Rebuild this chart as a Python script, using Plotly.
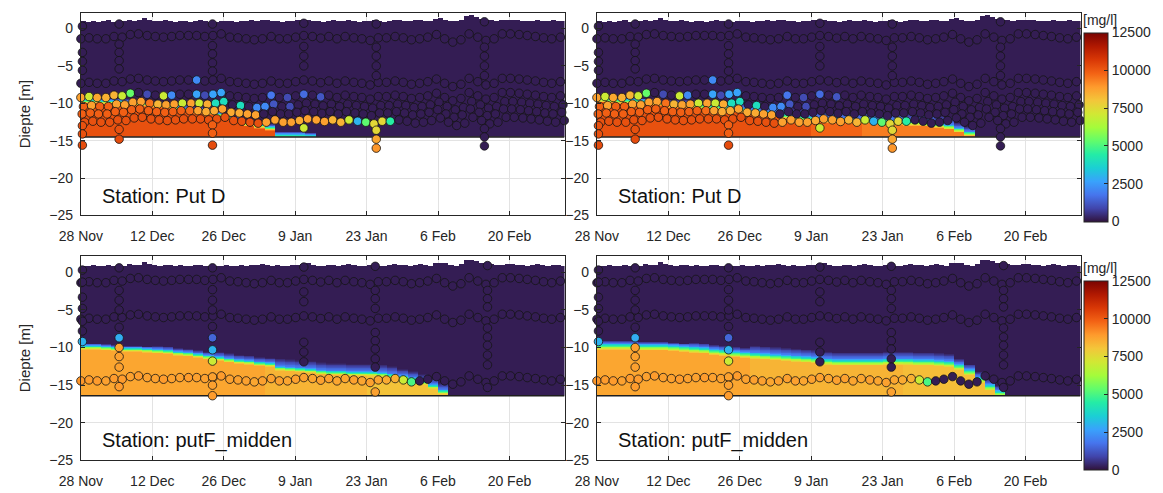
import numpy as np
import plotly.graph_objects as go

FONT = "Liberation Sans, Arial, sans-serif"
INK = "#262626"

# ---------------- axes ----------------
tick_days = [0, 14, 28, 42, 56, 70, 84]          # days after 28 Nov 2022
tick_text = ["28 Nov", "12 Dec", "26 Dec", "9 Jan", "23 Jan", "6 Feb", "20 Feb"]
depth_ticks = [0, -5, -10, -15, -20, -25]
day_end = 94.8
cbar_ticks = [0, 2500, 5000, 7500, 10000, 12500]
cbar_text = ["0", "2500", "5000", "7500", "10000", "12500"]
station_top = "Station: Put D"
station_bottom = "Station: putF_midden"

# ---------------- water level (m), one value per day ----------------
water_level = [0.95, 0.90, 1.00, 0.85, 0.95, 1.05, 0.90, 1.00, 0.95, 1.10,
               1.00, 1.05, 1.40, 1.10, 1.00, 0.95, 1.05, 1.00, 0.90, 1.00,
               0.95, 0.90, 1.00, 1.05, 0.95, 0.85, 0.90, 0.95, 1.00, 0.95,
               0.90, 1.00, 0.95, 1.05, 1.00, 1.10, 1.05, 0.95, 1.00, 0.90,
               0.95, 1.00, 1.05, 1.10, 1.20, 1.00, 0.95, 0.90, 1.00, 1.05,
               0.95, 1.00, 1.10, 1.00, 0.90, 0.95, 1.00, 1.05, 0.95, 0.90,
               1.00, 1.10, 1.05, 1.00, 0.95, 1.05, 1.15, 1.00, 0.95, 1.25,
               1.35, 1.20, 1.00, 0.95, 1.10, 1.70, 1.75, 1.50, 1.30, 1.20,
               1.10, 1.00, 1.05, 1.10, 1.15, 1.05, 1.00, 0.95, 1.00, 1.10,
               1.00, 0.95, 1.05, 1.00, 0.95]

# ---------------- sampling moments of the fixed sensors ----------------
sample_days = [0.0, 1.6, 3.2, 4.9, 6.5, 8.1, 9.7, 11.3, 13.0, 14.6,
               16.2, 17.8, 19.4, 21.1, 22.7, 24.3, 25.9, 27.5, 29.2, 30.8,
               32.4, 34.0, 35.6, 37.3, 38.9, 40.5, 42.1, 43.7, 45.4, 47.0,
               48.6, 50.2, 51.8, 53.5, 55.1, 56.7, 58.3, 59.9, 61.6, 63.2,
               64.8, 66.4, 68.0, 69.7, 71.3, 72.9, 74.5, 76.1, 77.8, 79.4,
               81.0, 82.6, 84.2, 85.9, 87.5, 89.1, 90.7, 92.3, 94.0]
# vertical excursion of the sensor frame at each sampling moment (m)
sample_wobble = [-0.13, 0.00, -0.13, -0.13, 0.18, 0.09, 0.44, 0.53, 0.31, 0.18,
                 0.09, 0.18, 0.31, 0.31, 0.31, 0.18, 0.31, 0.53, 0.09, 0.00,
                 -0.13, -0.26, -0.13, 0.18, -0.13, -0.13, 0.09, 0.31, 0.18, -0.04,
                 0.18, -0.13, 0.18, 0.00, -0.13, -0.35, 0.00, 0.00, 0.18, 0.00,
                 -0.26, -0.13, 0.09, 0.44, -0.13, -0.57, -0.26, 0.53, 0.09, -0.35,
                 -0.13, 0.53, 0.53, 0.44, 0.31, 0.18, 0.00, -0.13, 0.09]

# ================= Put D =================
putd_bed = -14.5
putd_row_depth = [-1.25, -7.2, -9.1, -10.3, -11.3, -12.4]
putd_row_lag = [0.0, 0.0, 0.0, 0.5, 0.25, 0.75]
putd_r1 = [200, 200, 200, 200, 200, 200, 200, 200, 200, 200,
           200, 200, 200, 200, 200, 200, 200, 200, 200, 200,
           200, 200, 200, 200, 200, 200, 200, 200, 200, 200,
           200, 200, 200, 200, 200, 200, 200, 200, 200, 200,
           200, 200, 200, 200, 200, 200, 200, 200, 200, 200,
           200, 200, 200, 200, 200, 200, 200, 200, 200]
putd_r2 = [200, 200, 200, 200, 200, 200, 200, 200, 200, 200,
           200, 200, 200, 200, 2200, 200, 200, 200, 200, 200,
           200, 200, 200, 200, 200, 200, 200, 200, 200, 200,
           200, 200, 200, 200, 200, 200, 200, 200, 200, 200,
           200, 200, 200, 200, 200, 200, 200, 200, 200, 200,
           200, 200, 200, 200, 200, 200, 200, 200, 200]
putd_r3 = [8800, 7000, 8700, 8500, 8400, 7000, 5400, 200, 1000, 200,
           7000, 2200, 200, 200, 2700, 1000, 2700, 2700, 200, 200,
           200, 200, 200, 1800, 200, 1000, 200, 1600, 200, 1200,
           200, 200, 200, 200, 200, 200, 200, 200, 200, 200,
           200, 200, 200, 200, 200, 200, 200, 200, 200, 200,
           200, 200, 200, 200, 200, 200, 200, 200, 200]
putd_r4 = [9900, 8800, 9900, 9900, 8800, 8800, 8800, 8800, 9600, 8400,
           8800, 8800, 7000, 8800, 7000, 8600, 4000, 4000, 200, 4000,
           200, 2200, 2200, 1200, 200, 1000, 200, 200, 200, 200,
           200, 200, 200, 200, 200, 200, 200, 200, 200, 200,
           200, 200, 200, 200, 200, 200, 200, 200, 200, 200,
           200, 200, 200, 200, 200, 200, 200, 200, 200]
putd_r5 = [9900, 9900, 9900, 9900, 9900, 9900, 9900, 9900, 9900, 9900,
           9900, 9900, 9900, 9700, 8800, 8600, 8600, 8800, 8600, 8600,
           8800, 8800, 200, 200, 200, 200, 200, 200, 200, 200,
           200, 200, 200, 200, 200, 200, 200, 200, 200, 200,
           200, 200, 200, 200, 200, 200, 200, 200, 200, 200,
           200, 200, 200, 200, 200, 200, 200, 200, 200]
putd_r6 = [10200, 10200, 10200, 10200, 10200, 10200, 10200, 10200, 10200, 10200,
           10200, 10200, 10200, 10200, 10200, 10200, 10200, 10200, 10200, 10200,
           10200, 10200, 8800, 8800, 8800, 8800, 8600, 8800, 8800, 8800,
           8400, 8400, 7000, 3000, 5300, 7600, 7600, 4500, 200, 200,
           200, 200, 200, 200, 200, 200, 200, 200, 200, 200,
           200, 200, 200, 200, 200, 200, 200, 200, 200]

# vertical profiles (day, depths, concentrations)
putd_prof_day = [0.3, 7.5, 25.8, 43.7, 57.9, 79.1]
putd_p1_depth = [0.3, -3.2, -4.4, -5.6, -13.0, -14.1, -15.6]
putd_p1_conc = [200, 200, 200, 200, 10200, 10200, 10300]
putd_p2_depth = [0.6, -2.1, -3.2, -4.3, -5.4, -13.5, -14.8]
putd_p2_conc = [200, 200, 200, 200, 200, 10200, 10300]
putd_p3_depth = [0.6, -2.3, -3.4, -4.6, -5.7, -12.9, -14.0, -15.6]
putd_p3_conc = [200, 200, 200, 200, 200, 9900, 9900, 10300]
putd_p4_depth = [0.7, -2.4, -3.7, -5.0, -13.3]
putd_p4_conc = [200, 200, 200, 200, 7000]
putd_p5_depth = [0.6, -2.5, -3.7, -5.0, -6.3, -13.6, -14.8, -16.0]
putd_p5_conc = [200, 200, 200, 200, 200, 7600, 8700, 9000]
putd_p6_depth = [0.9, -2.5, -3.7, -5.0, -6.3, -13.4, -14.5, -15.7]
putd_p6_conc = [200, 200, 200, 200, 200, 200, 200, 200]

# ================= putF_midden =================
putf_bed = -16.4
putf_row_depth = [-1.25, -6.1, -14.3]
putf_row_lag = [0.0, 0.0, 0.0]
putf_r1 = [200, 200, 200, 200, 200, 200, 200, 200, 200, 200,
           200, 200, 200, 200, 200, 200, 200, 200, 200, 200,
           200, 200, 200, 200, 200, 200, 200, 200, 200, 200,
           200, 200, 200, 200, 200, 200, 200, 200, 200, 200,
           200, 200, 200, 200, 200, 200, 200, 200, 200, 200,
           200, 200, 200, 200, 200, 200, 200, 200, 200]
putf_r2 = [200, 200, 200, 200, 200, 200, 200, 200, 200, 200,
           200, 200, 200, 200, 200, 200, 200, 200, 200, 200,
           200, 200, 200, 200, 200, 200, 200, 200, 200, 200,
           200, 200, 200, 200, 200, 200, 200, 200, 200, 200,
           200, 200, 200, 200, 200, 200, 200, 200, 200, 200,
           200, 200, 200, 200, 200, 200, 200, 200, 200]
putf_r3 = [9000, 8900, 8900, 8800, 8900, 8900, 8800, 8900, 8800, 8800,
           8900, 8800, 8800, 8900, 8800, 8800, 8800, 8900, 8800, 8800,
           8800, 8700, 8800, 8800, 8800, 8700, 8800, 8800, 8700, 8800,
           8800, 8700, 8700, 8800, 8700, 8800, 8700, 8600, 8500, 7000,
           5000, 200, 200, 200, 200, 200, 200, 200, 200, 200,
           200, 200, 200, 200, 200, 200, 200, 200, 200]

putf_prof_day = [0.3, 7.5, 25.8, 43.7, 57.7, 79.7]
putf_p1_depth = [0.3, -1.3, -3.3, -4.8, -6.5, -7.8, -9.2]
putf_p1_conc = [200, 200, 200, 200, 200, 200, 3000]
putf_p2_depth = [0.6, -2.4, -3.7, -5.0, -7.3, -8.7, -10.0, -11.2, -12.6, -15.2]
putf_p2_conc = [200, 200, 200, 200, 200, 2900, 8800, 8800, 8800, 8900]
putf_p3_depth = [0.6, -2.3, -3.7, -5.0, -7.2, -8.7, -10.3, -11.8, -13.9, -15.0, -16.4]
putf_p3_conc = [200, 200, 200, 200, 200, 1500, 3000, 7000, 8800, 8800, 8900]
putf_p4_depth = [0.7, -2.6, -3.9, -9.3, -10.6, -11.9]
putf_p4_conc = [200, 200, 200, 200, 200, 200]
putf_p5_depth = [0.8, -2.4, -3.5, -4.8, -8.0, -9.1, -10.2, -11.5, -12.6, -15.9]
putf_p5_conc = [200, 200, 200, 200, 200, 200, 200, 200, 200, 8800]
putf_p6_depth = [0.9, -2.4, -3.5, -4.6, -7.4, -8.6, -9.7, -11.0, -12.3, -15.3]
putf_p6_conc = [200, 200, 200, 200, 200, 200, 200, 200, 200, 200]

# ================= modelled fluid-mud layer, per 2-day block =================
# interface depth (m), thickness of the dilute haze above it (m), concentration below it (mg/l)
tl_iface = [-9.8, -9.8, -9.9, -9.9, -10.0, -10.1, -10.2, -10.3, -10.5, -10.7,
            -10.9, -11.1, -11.3, -11.6, -12.0, -12.4, -12.8, -13.1, -13.4, -14.3,
            -14.3, -14.3, -14.4, None, None, None, None, None, None, None,
            None, None, None, None, None, None, None, None, None, None,
            None, None, None, None, None, None, None, None]
tl_haze = [0.2, 0.2, 0.2, 0.2, 0.2, 0.2, 0.2, 0.2, 0.35, 0.35,
           0.35, 0.35, 0.35, 0.35, 0.35, 0.35, 0.35, 0.35, 0.35, 0.1,
           0.1, 0.1, 0.1, 0, 0, 0, 0, 0, 0, 0,
           0, 0, 0, 0, 0, 0, 0, 0, 0, 0,
           0, 0, 0, 0, 0, 0, 0, 0]
tl_conc = [10200, 10200, 10200, 10200, 10200, 10200, 10200, 10200, 10200, 10200,
           10200, 10200, 10200, 10200, 10200, 10200, 10200, 10200, 10200, 5800,
           5800, 5600, 5400, 0, 0, 0, 0, 0, 0, 0,
           0, 0, 0, 0, 0, 0, 0, 0, 0, 0,
           0, 0, 0, 0, 0, 0, 0, 0]

tr_iface = [-9.6, -9.7, -9.8, -9.8, -9.9, -10.0, -10.1, -10.3, -10.3, -10.4,
            -10.5, -10.6, -10.7, -10.9, -11.0, -11.2, -11.4, -11.6, -11.8, -12.0,
            -12.1, -12.2, -12.3, -12.3, -12.3, -12.4, -12.4, -12.5, -12.5, -12.6,
            -12.7, -12.7, -12.8, -13.0, -13.2, -13.6, -14.1, None, None, None,
            None, None, None, None, None, None, None, None]
tr_haze = [0.2, 0.2, 0.2, 0.2, 0.2, 0.2, 0.2, 0.4, 0.4, 0.4,
           0.4, 0.4, 0.4, 0.7, 0.7, 0.7, 0.7, 1.0, 1.0, 1.0,
           1.0, 1.0, 1.0, 1.0, 1.0, 1.0, 1.0, 1.0, 1.0, 1.0,
           1.0, 1.0, 1.0, 1.0, 1.0, 0.6, 0.6, 0, 0, 0,
           0, 0, 0, 0, 0, 0, 0, 0]
tr_conc = [10200, 10200, 10200, 10200, 10200, 10200, 10200, 10200, 10200, 10200,
           10200, 10200, 10200, 10200, 10200, 10200, 10200, 10200, 10200, 10200,
           10200, 9800, 9800, 9800, 9800, 9800, 9400, 9400, 9400, 9400,
           9400, 9400, 9400, 9400, 9400, 9400, 9400, 0, 0, 0,
           0, 0, 0, 0, 0, 0, 0, 0]

bl_iface = [-10.0, -10.0, -10.1, -10.2, -10.3, -10.3, -10.4, -10.5, -10.6, -10.8,
            -10.9, -11.1, -11.3, -11.5, -11.7, -11.9, -12.0, -12.2, -12.3, -12.8,
            -12.9, -13.0, -13.1, -13.3, -13.4, -13.4, -13.5, -13.5, -13.5, -13.6,
            -13.8, -14.0, -14.3, -14.7, -15.2, -15.9, None, None, None, None,
            None, None, None, None, None, None, None, None]
bl_haze = [0.2, 0.2, 0.2, 0.2, 0.2, 0.2, 0.2, 0.4, 0.4, 0.4,
           0.4, 0.4, 0.4, 0.6, 0.6, 0.6, 0.6, 0.6, 0.6, 1.0,
           1.0, 1.0, 1.0, 1.0, 1.0, 1.0, 1.0, 1.0, 1.0, 1.0,
           1.0, 0.8, 0.8, 0.8, 0.8, 0.8, 0, 0, 0, 0,
           0, 0, 0, 0, 0, 0, 0, 0]
bl_conc = [8700, 8700, 8700, 8700, 8700, 8700, 8700, 8700, 8700, 8700,
           8700, 8700, 8700, 8700, 8700, 8700, 8700, 8700, 8400, 8400,
           8400, 8400, 8400, 8400, 8400, 8400, 8400, 8400, 8100, 8100,
           8100, 8100, 8100, 8100, 8100, 8100, 0, 0, 0, 0,
           0, 0, 0, 0, 0, 0, 0, 0]

br_iface = [-9.9, -9.9, -9.9, -9.9, -10.0, -10.0, -10.0, -10.1, -10.2, -10.3,
            -10.4, -10.6, -10.7, -10.9, -11.0, -11.1, -11.2, -11.3, -11.4, -11.5,
            -11.6, -11.7, -11.9, -12.0, -12.0, -12.0, -12.0, -12.0, -11.9, -11.9,
            -11.9, -12.0, -12.0, -12.1, -12.2, -12.6, -13.3, -14.3, -15.3, -16.1,
            None, None, None, None, None, None, None, None]
br_haze = [0.3, 0.3, 0.3, 0.3, 0.3, 0.3, 0.3, 0.3, 0.3, 0.5,
           0.5, 0.5, 0.5, 0.5, 0.5, 0.9, 0.9, 0.9, 0.9, 0.9,
           0.9, 0.9, 0.9, 0.9, 0.9, 0.9, 0.9, 0.9, 0.9, 0.9,
           0.9, 0.9, 0.9, 0.9, 0.9, 0.6, 0.6, 0.6, 0.6, 0.6,
           0, 0, 0, 0, 0, 0, 0, 0]
br_conc = [8700, 8700, 8700, 8700, 8700, 8700, 8700, 8700, 8700, 8700,
           8700, 8700, 8700, 8700, 8700, 8400, 8400, 8400, 8400, 8400,
           8400, 8400, 8400, 8400, 8400, 8400, 8400, 8400, 8400, 8400,
           8200, 8200, 8200, 8200, 8200, 8200, 8200, 8200, 8200, 8200,
           0, 0, 0, 0, 0, 0, 0, 0]

WATER_CONC = 200       # clear water above the layer
HAZE_CONC = 2000       # concentration at the top of the density ramp


def layer_field(bed, iface, haze, conc, ramp):
    """Depth/time field of modelled concentration, blank above water and below bed."""
    days = np.arange(len(water_level)) + 0.5
    depth = np.arange(bed + 0.05, 2.5, 0.1)
    z = np.full((len(depth), len(days)), np.nan)
    for d in range(len(days)):
        blk = d // 2
        for j, yy in enumerate(depth):
            if yy > water_level[d]:
                continue
            v = WATER_CONC
            if iface[blk] is not None:
                r_top = iface[blk] + ramp / 2
                r_bot = iface[blk] - ramp / 2
                h_top = r_top + haze[blk]
                if yy < r_bot:
                    v = conc[blk]
                elif yy < r_top:
                    v = HAZE_CONC + (conc[blk] - HAZE_CONC) * (r_top - yy) / ramp
                elif yy < h_top and haze[blk] > 0:
                    v = WATER_CONC + (HAZE_CONC - WATER_CONC) * (h_top - yy) / haze[blk]
            z[j, d] = v
    return days, depth, z


def station_points(row_depth, row_lag, rows, prof_day, prof_depth, prof_conc):
    xs, ys, cs = [], [], []
    for dep, lag, vals in zip(row_depth, row_lag, rows):
        for t, w, v in zip(sample_days, sample_wobble, vals):
            xs.append(t + lag)
            ys.append(dep + w)
            cs.append(v)
    for t, deps, vals in zip(prof_day, prof_depth, prof_conc):
        xs += [t] * len(deps)
        ys += deps
        cs += vals
    return xs, ys, cs


putd_pts = station_points(putd_row_depth, putd_row_lag,
                          [putd_r1, putd_r2, putd_r3, putd_r4, putd_r5, putd_r6],
                          putd_prof_day,
                          [putd_p1_depth, putd_p2_depth, putd_p3_depth, putd_p4_depth, putd_p5_depth, putd_p6_depth],
                          [putd_p1_conc, putd_p2_conc, putd_p3_conc, putd_p4_conc, putd_p5_conc, putd_p6_conc])
putf_pts = station_points(putf_row_depth, putf_row_lag,
                          [putf_r1, putf_r2, putf_r3],
                          putf_prof_day,
                          [putf_p1_depth, putf_p2_depth, putf_p3_depth, putf_p4_depth, putf_p5_depth, putf_p6_depth],
                          [putf_p1_conc, putf_p2_conc, putf_p3_conc, putf_p4_conc, putf_p5_conc, putf_p6_conc])

panels = [
    # axis suffix, bed, layer, points, colour axis, station label
    ("", putd_bed, (tl_iface, tl_haze, tl_conc, 0.6), putd_pts, "coloraxis", station_top),
    ("2", putd_bed, (tr_iface, tr_haze, tr_conc, 0.7), putd_pts, "coloraxis", station_top),
    ("3", putf_bed, (bl_iface, bl_haze, bl_conc, 0.6), putf_pts, "coloraxis2", station_bottom),
    ("4", putf_bed, (br_iface, br_haze, br_conc, 0.9), putf_pts, "coloraxis2", station_bottom),
]

fig = go.Figure()
for sfx, bed, layer, pts, cax, label in panels:
    xa, ya = "x" + sfx, "y" + sfx
    days, depth, z = layer_field(bed, *layer)
    fig.add_trace(go.Heatmap(x=days, y=depth, z=z, coloraxis=cax, xaxis=xa, yaxis=ya,
                             hoverinfo="skip", zsmooth=False))
    fig.add_trace(go.Scatter(x=[0, day_end], y=[bed, bed], mode="lines", xaxis=xa, yaxis=ya,
                             line=dict(color="#1e1e1e", width=1.5), hoverinfo="skip"))
    xs, ys, cs = pts
    fig.add_trace(go.Scatter(x=xs, y=ys, mode="markers", xaxis=xa, yaxis=ya, cliponaxis=False,
                             marker=dict(size=8.5, color=cs, coloraxis=cax,
                                         line=dict(color="#151515", width=0.8))))
    fig.add_annotation(x=3.8, y=-22.4, xref=xa, yref=ya, text=label, showarrow=False,
                       xanchor="left", yanchor="middle",
                       font=dict(family=FONT, size=20, color="#111111"))

xdom_l = [60 / 1163, 553 / 1163]
xdom_r = [586 / 1163, 1079 / 1163]
ydom_t = [(493 - 219) / 493, (493 - 13) / 493]
ydom_b = [(493 - 468) / 493, (493 - 260) / 493]

axis_common = dict(showline=True, linecolor=INK, linewidth=1, mirror="ticks",
                   ticks="inside", ticklen=4, tickcolor=INK,
                   showgrid=True, gridcolor="#e3e3e3", gridwidth=1, zeroline=False,
                   tickfont=dict(family=FONT, size=14, color=INK))

layout_axes = {}
for sfx, xdom, ydom, ytop, ytitle in [("", xdom_l, ydom_t, 2.1, "Diepte [m]"),
                                      ("2", xdom_r, ydom_t, 2.1, None),
                                      ("3", xdom_l, ydom_b, 2.2, "Diepte [m]"),
                                      ("4", xdom_r, ydom_b, 2.2, None)]:
    layout_axes["xaxis" + sfx] = dict(axis_common, domain=xdom, anchor="y" + sfx,
                                      range=[0, day_end], tickvals=tick_days, ticktext=tick_text,
                                      ticklabelstandoff=8)
    ya = dict(axis_common, domain=ydom, anchor="x" + sfx, range=[-25, ytop],
              tickvals=depth_ticks, ticklabelstandoff=4)
    if ytitle:
        ya["title"] = dict(text=ytitle, font=dict(family=FONT, size=15, color=INK), standoff=15)
    layout_axes["yaxis" + sfx] = ya


def cbar(ymid):
    return dict(colorscale="Turbo", cmin=0, cmax=12500,
                colorbar=dict(thickness=24, thicknessmode="pixels", len=0.432, lenmode="fraction",
                              x=1082 / 1163, xanchor="left", xpad=0, y=ymid, yanchor="middle", ypad=0,
                              outlinewidth=1, outlinecolor=INK,
                              tickvals=cbar_ticks, ticktext=cbar_text,
                              ticks="inside", ticklen=4, tickcolor=INK,
                              tickfont=dict(family=FONT, size=14, color=INK),
                              title=dict(text="[mg/l]", side="top",
                                         font=dict(family=FONT, size=14, color=INK))))


fig.update_layout(width=1163, height=493, margin=dict(l=0, r=0, t=0, b=0),
                  paper_bgcolor="white", plot_bgcolor="white", showlegend=False,
                  font=dict(family=FONT, color=INK),
                  coloraxis=cbar((493 - 118.5) / 493),
                  coloraxis2=cbar((493 - 371) / 493),
                  **layout_axes)

fig.write_html("out.html")
